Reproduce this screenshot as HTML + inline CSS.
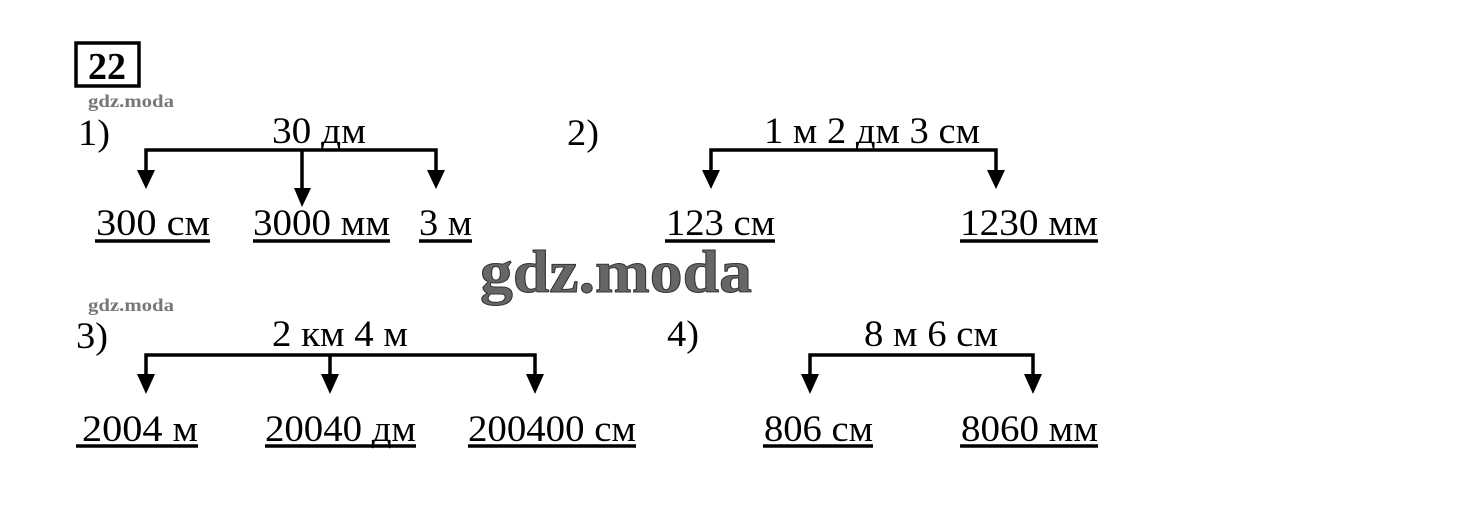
<!DOCTYPE html>
<html><head><meta charset="utf-8"><style>
html,body{margin:0;padding:0;background:#fff;}
svg{display:block;}
text{font-family:"Liberation Serif",serif;fill:#000;}
</style></head><body>
<svg width="1460" height="527" viewBox="0 0 1460 527" xmlns="http://www.w3.org/2000/svg">
<rect x="76" y="43" width="63" height="43" fill="none" stroke="#000" stroke-width="3.5"/>
<text x="107" y="79" font-size="38" font-weight="bold" text-anchor="middle">22</text>
<text x="88" y="107" font-size="18" font-weight="bold" style="fill:#777" textLength="86" lengthAdjust="spacingAndGlyphs">gdz.moda</text>
<text x="88" y="311" font-size="18" font-weight="bold" style="fill:#777" textLength="86" lengthAdjust="spacingAndGlyphs">gdz.moda</text>
<text x="480" y="292" font-size="60" font-weight="bold" style="fill:#666;stroke:#333;stroke-width:1" textLength="272" lengthAdjust="spacingAndGlyphs">gdz.moda</text>

<g font-size="37">
<!-- 1 -->
<text x="78" y="145" textLength="32" lengthAdjust="spacingAndGlyphs">1)</text>
<text x="272" y="143" textLength="94" lengthAdjust="spacingAndGlyphs">30 дм</text>
<text x="96" y="235" textLength="114" lengthAdjust="spacingAndGlyphs">300 см</text>
<text x="253" y="235" textLength="137" lengthAdjust="spacingAndGlyphs">3000 мм</text>
<text x="419" y="235" textLength="53" lengthAdjust="spacingAndGlyphs">3 м</text>
<!-- 2 -->
<text x="567" y="145" textLength="32" lengthAdjust="spacingAndGlyphs">2)</text>
<text x="764" y="143" textLength="216" lengthAdjust="spacingAndGlyphs">1 м 2 дм 3 см</text>
<text x="666" y="235" textLength="109" lengthAdjust="spacingAndGlyphs">123 см</text>
<text x="960" y="235" textLength="138" lengthAdjust="spacingAndGlyphs">1230 мм</text>
<!-- 3 -->
<text x="76" y="348" textLength="32" lengthAdjust="spacingAndGlyphs">3)</text>
<text x="272" y="346" textLength="136" lengthAdjust="spacingAndGlyphs">2 км 4 м</text>
<text x="82" y="441" textLength="116" lengthAdjust="spacingAndGlyphs">2004 м</text>
<text x="265" y="441" textLength="151" lengthAdjust="spacingAndGlyphs">20040 дм</text>
<text x="468" y="441" textLength="168" lengthAdjust="spacingAndGlyphs">200400 см</text>
<!-- 4 -->
<text x="667" y="346" textLength="32" lengthAdjust="spacingAndGlyphs">4)</text>
<text x="864" y="346" textLength="134" lengthAdjust="spacingAndGlyphs">8 м 6 см</text>
<text x="764" y="441" textLength="109" lengthAdjust="spacingAndGlyphs">806 см</text>
<text x="961" y="441" textLength="137" lengthAdjust="spacingAndGlyphs">8060 мм</text>
</g>

<g stroke="#000" stroke-width="3.5" fill="none">
<path d="M146 170 V150 H436 V170 M302 150 V190"/>
<path d="M711 170 V150 H996 V170"/>
<path d="M146 375 V355 H535 V375 M330 355 V375"/>
<path d="M810 375 V355 H1033 V375"/>
<path d="M95 241 H210 M253 241 H390 M419 241 H472"/>
<path d="M665 241 H775 M960 241 H1098"/>
<path d="M76 446 H198 M265 446 H416 M468 446 H636"/>
<path d="M763 446 H873 M960 446 H1098"/>
</g>
<g fill="#000">
<polygon points="137,170 155,170 146,189"/>
<polygon points="294,188 311,188 302,207"/>
<polygon points="427,170 445,170 436,189"/>
<polygon points="702,170 720,170 711,189"/>
<polygon points="987,170 1005,170 996,189"/>
<polygon points="137,374 155,374 146,394"/>
<polygon points="321,374 339,374 330,394"/>
<polygon points="526,374 544,374 535,394"/>
<polygon points="801,374 819,374 810,394"/>
<polygon points="1024,374 1042,374 1033,394"/>
</g>
</svg>
</body></html>
